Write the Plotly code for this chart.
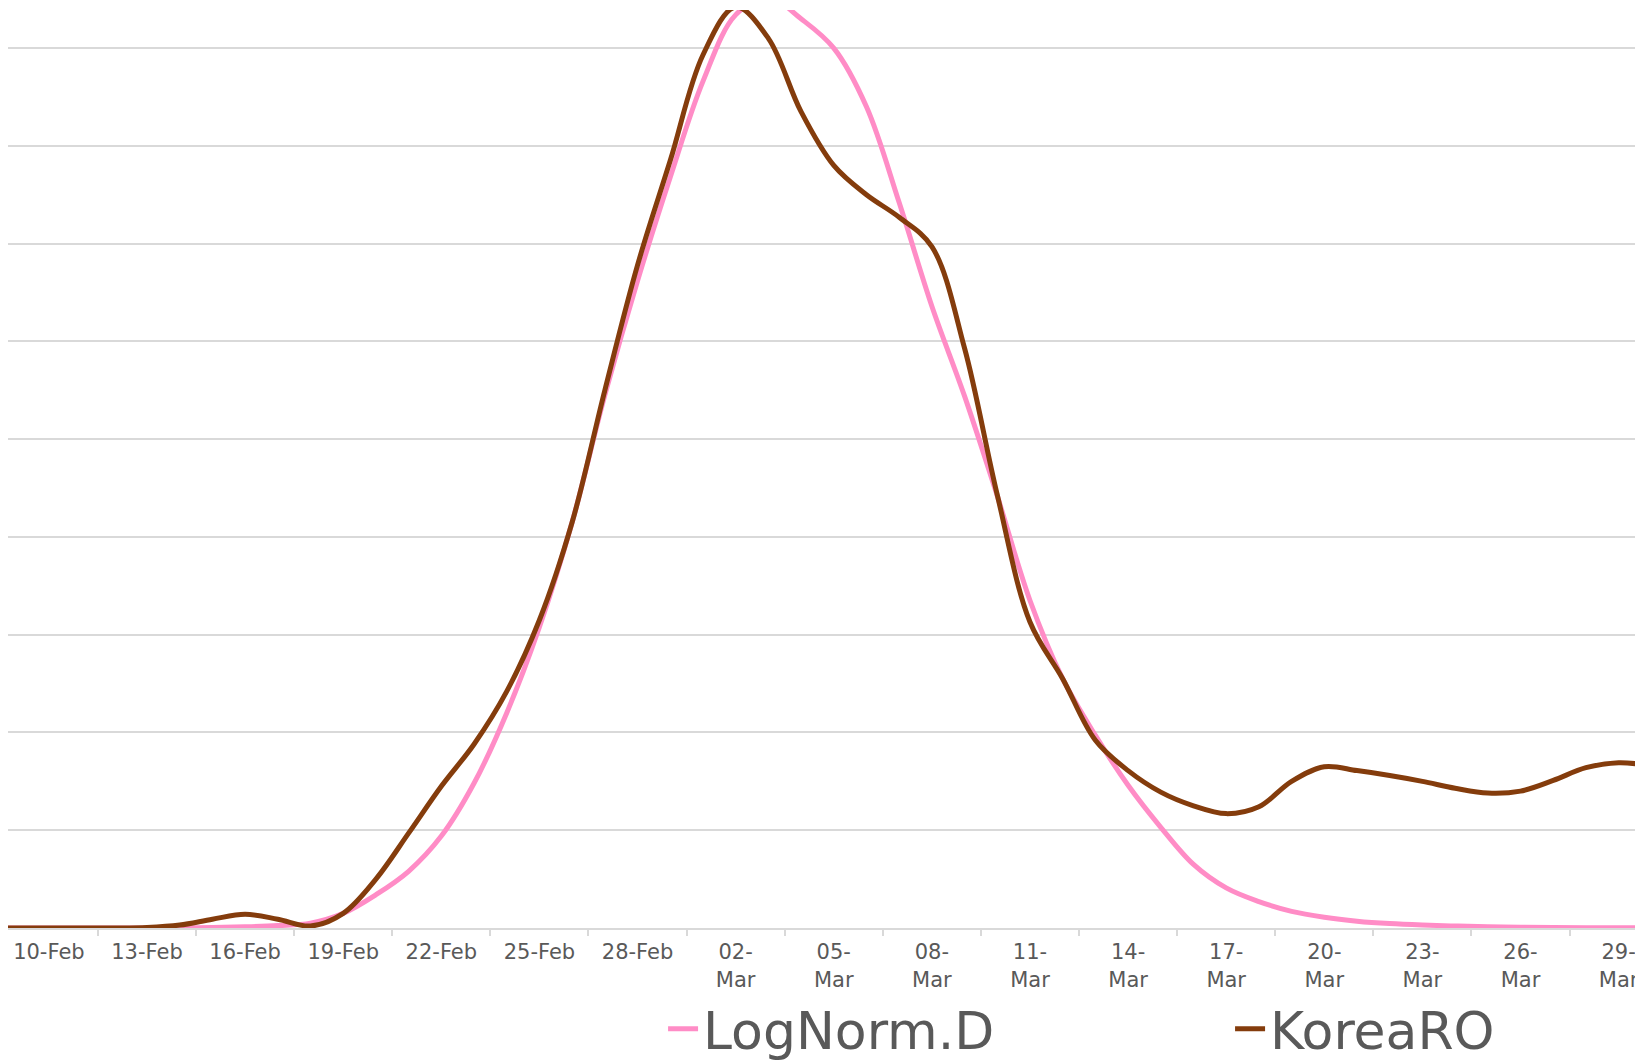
import plotly.graph_objects as go
import pandas as pd

# daily values, 08-Feb-2020 .. 30-Mar-2020 (y axis has no labels, gridline step = 1)
dates = pd.date_range("2020-02-08", "2020-03-30", freq="D")

lognorm_d = [0, 0, 0, 0, 0, 0, 0.002, 0.005, 0.012, 0.025,
             0.05, 0.15, 0.34, 0.58, 0.94, 1.48, 2.2, 3.08, 4.15, 5.45,
             6.62, 7.68, 8.66, 9.34, 9.52, 9.3, 9.0, 8.4, 7.42, 6.36,
             5.44, 4.42, 3.35, 2.55, 1.97, 1.46, 1.03, 0.65, 0.41, 0.27,
             0.17, 0.11, 0.07, 0.045, 0.03, 0.02, 0.012, 0.008, 0.005, 0.003,
             0.002, 0.001]

korea_ro = [0, 0, 0, 0, 0, 0.005, 0.03, 0.09, 0.14, 0.09,
            0.02, 0.15, 0.5, 0.97, 1.45, 1.88, 2.42, 3.15, 4.15, 5.5,
            6.78, 7.85, 8.93, 9.42, 9.1, 8.35, 7.8, 7.5, 7.27, 6.97,
            5.93, 4.43, 3.13, 2.55, 1.92, 1.61, 1.39, 1.25, 1.17, 1.24,
            1.5, 1.65, 1.61, 1.56, 1.5, 1.43, 1.38, 1.4, 1.51, 1.64,
            1.69, 1.66]

tick_dates = pd.date_range("2020-02-10", "2020-03-29", freq="3D")
tick_text = ["10-Feb", "13-Feb", "16-Feb", "19-Feb", "22-Feb", "25-Feb", "28-Feb",
             "02-<br>Mar", "05-<br>Mar", "08-<br>Mar", "11-<br>Mar", "14-<br>Mar",
             "17-<br>Mar", "20-<br>Mar", "23-<br>Mar", "26-<br>Mar", "29-<br>Mar"]

GRID = "#D9D9D9"
TXT = "#595959"

fig = go.Figure()
fig.add_trace(go.Scatter(x=dates, y=lognorm_d, name="LogNorm.D", mode="lines",
                         line=dict(color="#FF8CC6", width=5, shape="spline"),
                         legend="legend"))
fig.add_trace(go.Scatter(x=dates, y=korea_ro, name="KoreaRO", mode="lines",
                         line=dict(color="#843C0C", width=5, shape="spline"),
                         legend="legend2"))

leg = dict(orientation="h", y=-0.110, yanchor="middle", xanchor="left",
           font=dict(size=52, color=TXT), itemwidth=30, bgcolor="rgba(0,0,0,0)")

fig.update_layout(
    width=1643, height=1063,
    # page body adds 8px, so the plot sits at 8px from the left / 10px from the top
    margin=dict(l=0, r=0, t=2, b=143, autoexpand=False),
    paper_bgcolor="white", plot_bgcolor="white",
    font=dict(family="DejaVu Sans", color=TXT),
    showlegend=True,
    legend=dict(leg, x=0.3987),
    legend2=dict(leg, x=0.7438),
)

fig.update_xaxes(
    range=["2020-02-08 18:00", "2020-03-29 23:45"],
    tickmode="array", tickvals=tick_dates, ticktext=tick_text,
    tickangle=0, tickfont=dict(size=21, color=TXT),
    ticks="", ticklabelstandoff=4, showgrid=False, zeroline=False,
    showline=True, linecolor=GRID, linewidth=2,
    ticklabeloverflow="allow",
    minor=dict(ticks="outside", tick0="2020-02-11 12:00", dtick=3 * 86400000,
               ticklen=6, tickwidth=1.5, tickcolor=GRID, showgrid=False),
)
fig.update_yaxes(
    range=[0, 9.39], dtick=1, showticklabels=False,
    showgrid=True, gridcolor=GRID, gridwidth=2, zeroline=False,
)

fig.write_html("out.html")
